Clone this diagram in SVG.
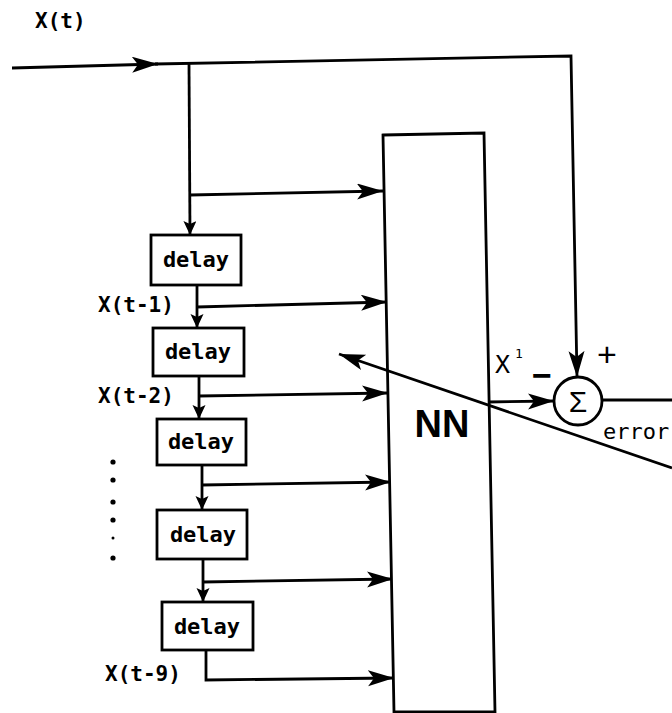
<svg xmlns="http://www.w3.org/2000/svg" width="672" height="713" viewBox="0 0 672 713">
<style>
.ln{fill:none;stroke:#000;stroke-width:2.8;stroke-linejoin:miter}
.box{fill:#fff;stroke:#000;stroke-width:2.8}
.mono{font-family:"DejaVu Sans Mono","Liberation Mono",monospace;font-weight:bold;font-size:21px;fill:#000}
.dl{font-size:22px}
.sans{font-family:"Liberation Sans",Arial,sans-serif;fill:#000}
</style>
<defs>
<marker id="big" markerUnits="userSpaceOnUse" markerWidth="28" markerHeight="18" refX="26" refY="8" orient="auto">
<path d="M0,0 L26,8 L0,16 L6,8 z" fill="#000"/>
</marker>
<marker id="small" markerUnits="userSpaceOnUse" markerWidth="16" markerHeight="14" refX="14" refY="6.5" orient="auto">
<path d="M0,0 L14,6.5 L0,13 L3,6.5 z" fill="#000"/>
</marker>
</defs>
<rect width="672" height="713" fill="#fff"/>

<g id="connectors">
<line class="ln" x1="12" y1="68" x2="158" y2="64" marker-end="url(#big)"/>
<polyline class="ln" points="155,64 571,56 577,377" marker-end="url(#big)"/>
<line class="ln" x1="189" y1="64" x2="190" y2="235" marker-end="url(#small)"/>
<line class="ln" x1="190" y1="195" x2="383" y2="191" marker-end="url(#big)"/>
<line class="ln" x1="197" y1="285" x2="197" y2="328" marker-end="url(#small)"/>
<line class="ln" x1="197" y1="307" x2="387" y2="302" marker-end="url(#big)"/>
<line class="ln" x1="199" y1="376" x2="199" y2="419" marker-end="url(#small)"/>
<line class="ln" x1="199" y1="396" x2="388" y2="393" marker-end="url(#big)"/>
<line class="ln" x1="202" y1="465" x2="202" y2="510" marker-end="url(#small)"/>
<line class="ln" x1="202" y1="485" x2="391" y2="482" marker-end="url(#big)"/>
<line class="ln" x1="203" y1="559" x2="203" y2="602" marker-end="url(#small)"/>
<line class="ln" x1="203" y1="582" x2="393" y2="579" marker-end="url(#big)"/>
<polyline class="ln" points="206,650 206,680 394,678" marker-end="url(#big)"/>
<line class="ln" x1="488" y1="402" x2="554" y2="401" marker-end="url(#big)"/>
<line class="ln" x1="602" y1="400" x2="672" y2="400"/>
</g>

<g id="NN">
<polygon class="box" points="383,135 484,133 495,712 394,712"/>
<text class="sans" x="442" y="437" font-size="38" font-weight="bold" text-anchor="middle">NN</text>
</g>

<g id="feedback">
<line class="ln" x1="672" y1="468" x2="339" y2="354" marker-end="url(#big)"/>
</g>

<g id="delay1"><rect class="box" x="151" y="235" width="90" height="50"/><text class="mono dl" x="196" y="267" text-anchor="middle">delay</text></g>
<g id="delay2"><rect class="box" x="153" y="328" width="91" height="48"/><text class="mono dl" x="198" y="359" text-anchor="middle">delay</text></g>
<g id="delay3"><rect class="box" x="157" y="419" width="89" height="46"/><text class="mono dl" x="201" y="449" text-anchor="middle">delay</text></g>
<g id="delay4"><rect class="box" x="157" y="510" width="90" height="49"/><text class="mono dl" x="203" y="542" text-anchor="middle">delay</text></g>
<g id="delay5"><rect class="box" x="162" y="602" width="91" height="48"/><text class="mono dl" x="207" y="634" text-anchor="middle">delay</text></g>

<g id="sum">
<circle cx="578" cy="401" r="24" fill="#fff" stroke="#000" stroke-width="2.8"/>
<text class="sans" x="578" y="412" font-size="30" text-anchor="middle">Σ</text>
<text class="sans" x="607" y="366" font-size="34" text-anchor="middle">+</text>
<text class="sans" x="542" y="387" font-size="34" font-weight="bold" text-anchor="middle">−</text>
</g>

<g id="labels">
<text class="mono" x="35" y="28">X(t)</text>
<text class="mono" x="98" y="312">X(t-1)</text>
<text class="mono" x="98" y="403">X(t-2)</text>
<text class="mono" x="105" y="681">X(t-9)</text>
<text font-family="DejaVu Sans Mono, monospace" font-size="25" x="495" y="373">X</text>
<text font-family="DejaVu Sans Mono, monospace" font-size="13" x="515" y="358">1</text>
<text font-family="DejaVu Sans Mono, monospace" font-size="22" x="603" y="439">error</text>
</g>

<g id="dots" fill="#000">
<circle cx="113" cy="462" r="2.6"/>
<circle cx="113" cy="480" r="2.6"/>
<circle cx="113" cy="502" r="2.6"/>
<circle cx="113" cy="520" r="2.6"/>
<circle cx="113" cy="538" r="1.5"/>
<circle cx="113" cy="558" r="2.6"/>
</g>
</svg>
